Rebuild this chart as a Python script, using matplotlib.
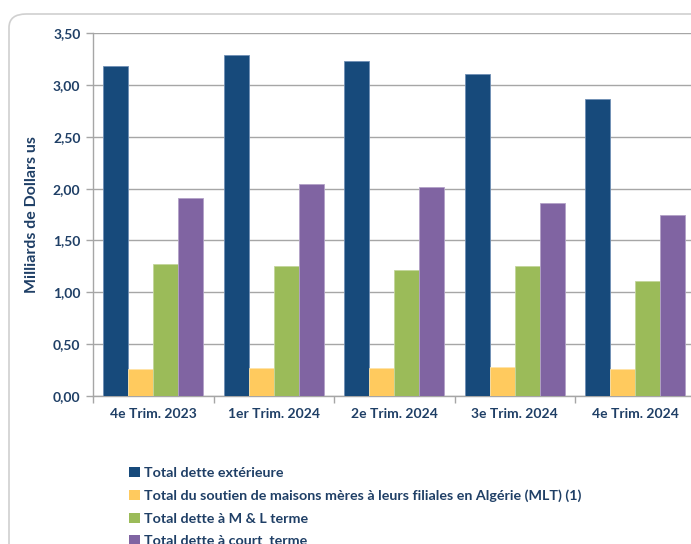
import matplotlib
matplotlib.use("Agg")
import matplotlib.pyplot as plt
from matplotlib.patches import FancyBboxPatch, Patch
import numpy as np

categories = ["4e Trim. 2023", "1er Trim. 2024", "2e Trim. 2024", "3e Trim. 2024", "4e Trim. 2024"]
series_names = [
    "Total dette extérieure",
    "Total du soutien de maisons mères à leurs filiales en Algérie (MLT) (1)",
    "Total dette à M & L terme",
    "Total dette à court  terme",
]
total_ext = [3.18, 3.29, 3.23, 3.11, 2.87]
soutien_mlt = [0.26, 0.27, 0.27, 0.28, 0.255]
dette_ml = [1.27, 1.25, 1.21, 1.25, 1.11]
dette_ct = [1.91, 2.04, 2.02, 1.86, 1.75]
yticks = [0.0, 0.5, 1.0, 1.5, 2.0, 2.5, 3.0, 3.5]
ytick_labels = ["0,00", "0,50", "1,00", "1,50", "2,00", "2,50", "3,00", "3,50"]

colors = ["#174A7B", "#FFCA5E", "#9BBB59", "#8064A2"]
edges = ["#6F8FB5", "#FFE3A8", "#C3D69B", "#B2A1C7"]
txt = "#1F3F66"
font = ["Lato", "DejaVu Sans"]

fig = plt.figure(figsize=(6.91, 5.44), dpi=100)

# outer rounded frame (extends beyond right and bottom edges)
frame = FancyBboxPatch((9 / 691, -0.2), 720 / 691, 1.2 - 14 / 544,
                       boxstyle="round,pad=0,rounding_size=0.025",
                       transform=fig.transFigure, facecolor="white",
                       edgecolor="#D0D0D0", linewidth=1.2, clip_on=False,
                       zorder=-10)
fig.add_artist(frame)

ax = fig.add_axes([93 / 691, 1 - 395.7 / 544, 602.5 / 691, 362.4 / 544])
ax.set_zorder(5)
ax.set_facecolor("none")

x = np.arange(len(categories))
w = 0.2075
data = [total_ext, soutien_mlt, dette_ml, dette_ct]
for i, (vals, c, e) in enumerate(zip(data, colors, edges)):
    ax.bar(x + (i - 1.5) * w, vals, width=w, color=c, edgecolor=e, linewidth=0.6, zorder=3)

ax.set_xlim(-0.5, 4.5)
ax.set_ylim(0, 3.5)
ax.set_yticks(yticks)
ax.set_yticklabels(ytick_labels)
ax.yaxis.grid(True, color="#A6A6A6", linewidth=1.0, zorder=0)
ax.set_axisbelow(True)

ax.set_xticks(x)
ax.set_xticklabels(categories)
ax.set_xticks(np.arange(-0.5, 5.0, 1.0), minor=True)
ax.tick_params(axis="x", which="major", length=0, pad=9)
ax.tick_params(axis="x", which="minor", length=5, color="#A6A6A6", width=1)
ax.tick_params(axis="y", length=5, color="#A6A6A6", width=1, pad=4)

for lab in ax.get_xticklabels() + ax.get_yticklabels():
    lab.set_family(font)
    lab.set_fontweight("bold")
    lab.set_fontsize(10)
    lab.set_color(txt)

for s in ["top", "right"]:
    ax.spines[s].set_visible(False)
for s in ["left", "bottom"]:
    ax.spines[s].set_color("#A6A6A6")
    ax.spines[s].set_linewidth(1.0)

ax.set_ylabel("Milliards de Dollars us", family=font, fontweight="bold",
              fontsize=11.5, color=txt, labelpad=10)

handles = [Patch(facecolor=c, edgecolor="none") for c in colors]
leg = fig.legend(handles, series_names, loc="upper left",
                 bbox_to_anchor=(129 / 691, 1 - 467 / 544), frameon=False,
                 handlelength=0.75, handleheight=0.75, handletextpad=0.3,
                 labelspacing=0.72, borderpad=0, borderaxespad=0,
                 prop={"family": font, "weight": "bold", "size": 10.3},
                 labelcolor=txt)
leg.set_zorder(6)

fig.savefig("out.png", dpi=100)
